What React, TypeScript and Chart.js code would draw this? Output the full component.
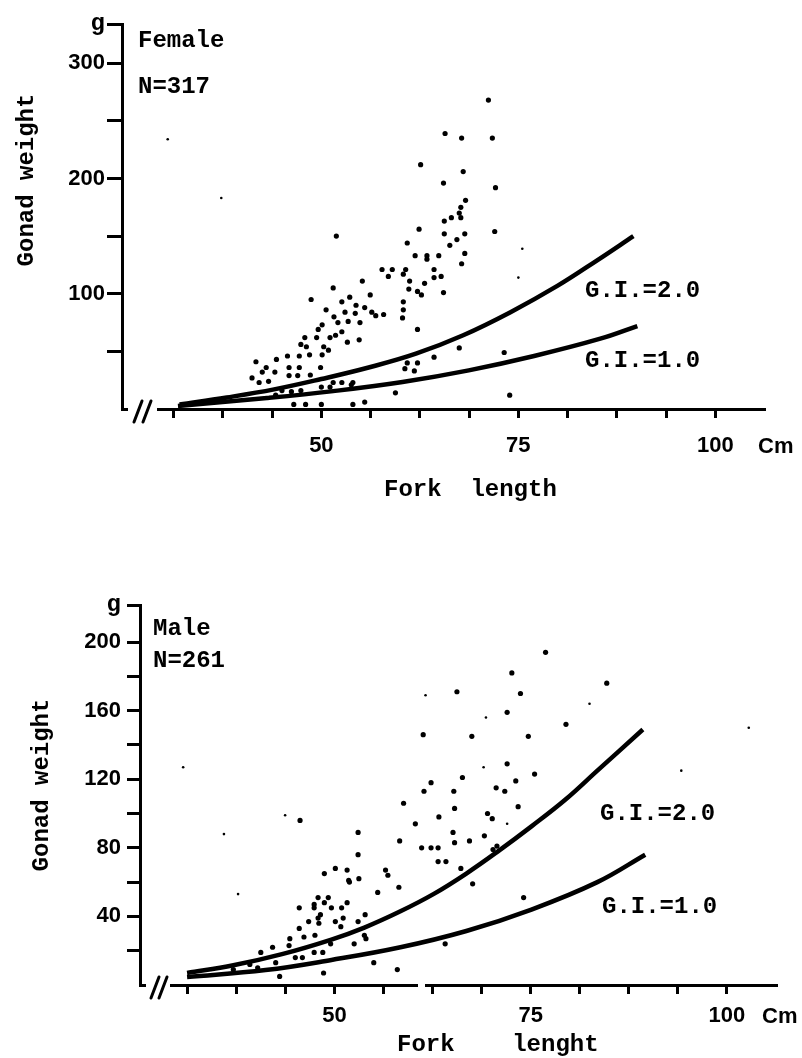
import React, { useEffect, useRef } from "react";
import { Chart, registerables } from "chart.js";

Chart.register(...registerables);

const MONO = '"Liberation Mono", "DejaVu Sans Mono", monospace';
const SANS = '"Liberation Sans", Arial, sans-serif';

// ---------- shared axis ticks ----------
const xTickValues = [31.25, 37.5, 43.75, 50, 56.25, 62.5, 68.75, 75, 81.25, 87.5, 93.75, 100];
const xTickLabels = [50, 75, 100];

const femaleYTicks = [50, 100, 150, 200, 250, 300];
const femaleYLabels = [100, 200, 300];
const maleYTicks = [20, 40, 60, 80, 100, 120, 140, 160, 180, 200];
const maleYLabels = [40, 80, 120, 160, 200];

// ---------- Female (N=317) ----------
const femalePoints = [
  [71.2, 268], [65.7, 239], [67.8, 235], [71.7, 235], [62.6, 212], [68.0, 206], [65.5, 196], [72.1, 192],
  [68.3, 181], [67.7, 175], [67.5, 170], [66.5, 166], [65.6, 163], [67.7, 166], [62.4, 156], [72.0, 154],
  [65.6, 152], [68.2, 152], [51.9, 150], [67.2, 147], [66.3, 142], [60.9, 144], [68.2, 135], [61.9, 133],
  [63.4, 133], [63.4, 130], [64.9, 133], [67.8, 126], [57.7, 121], [59.0, 121], [58.5, 115], [60.7, 121],
  [60.4, 117], [64.3, 121], [64.3, 114], [65.2, 115], [55.2, 111], [61.2, 111], [63.1, 109], [61.1, 104],
  [62.2, 102], [62.7, 99], [65.5, 101], [51.5, 105], [48.7, 95], [56.2, 99], [53.6, 97], [52.6, 93],
  [54.4, 90], [55.5, 88], [60.4, 93], [60.4, 86], [60.3, 79], [50.6, 86], [53.0, 84], [54.3, 83],
  [56.4, 84], [56.9, 81], [57.9, 82], [51.6, 80], [49.6, 69], [50.1, 73], [52.1, 75], [53.4, 76],
  [54.9, 75], [49.4, 62], [51.1, 62], [51.8, 64], [52.6, 67], [47.9, 62], [53.3, 58], [54.8, 60],
  [62.2, 69], [47.4, 56], [48.1, 54], [50.3, 54], [50.1, 47], [50.9, 51], [45.7, 46], [47.2, 46],
  [48.5, 47], [44.3, 43], [41.7, 41], [43.0, 36], [42.5, 32], [44.1, 32], [45.9, 36], [47.2, 36],
  [49.9, 36], [41.2, 27], [42.1, 23], [43.3, 24], [45.9, 29], [47.0, 29], [48.6, 29.5], [67.5, 53],
  [64.3, 45], [73.2, 49], [60.9, 40], [62.2, 40], [60.6, 35], [61.8, 33], [59.4, 14], [73.9, 12],
  [51.5, 23], [52.6, 23], [54.0, 23], [50.0, 19], [51.1, 19], [53.8, 21], [45.0, 16], [46.2, 15],
  [47.4, 16], [44.2, 12], [46.5, 4], [48.0, 4], [50.0, 4], [54.0, 4], [55.5, 6],
];
const femaleFaint = [[30.5, 234], [37.3, 183], [75.5, 139], [75.0, 114]];
const femaleGI2 = [
  [32, 4], [38, 10], [44, 17], [50, 26], [56, 36], [62, 48], [68, 64], [74, 84],
  [80, 107], [85, 129], [89.6, 150],
];
const femaleGI1 = [
  [31.8, 2.6], [43.1, 9.5], [51.5, 15.5], [60.3, 23.4], [68.7, 33.5], [77, 46], [85.4, 61], [90.1, 72],
];

// ---------- Male (N=261) ----------
const malePoints = [
  [76.9, 194], [72.6, 182], [65.6, 171], [73.7, 170], [72.0, 159], [61.3, 146], [67.5, 145], [74.7, 145],
  [72.0, 129], [75.5, 123], [66.3, 121], [62.3, 118], [73.1, 119], [61.4, 113], [65.2, 113], [70.6, 115],
  [71.7, 113], [58.8, 106], [65.3, 103], [73.4, 104], [63.3, 98], [69.5, 100], [70.1, 97], [45.6, 96],
  [60.3, 94], [53.0, 89], [65.1, 89], [58.3, 84], [67.2, 84], [69.1, 87], [65.3, 83], [61.1, 80],
  [62.3, 80], [63.2, 80], [70.7, 81], [70.2, 79], [53.0, 76], [63.2, 72], [64.2, 72], [66.1, 68],
  [48.7, 65], [50.1, 68], [51.6, 67], [56.5, 67], [56.8, 64], [51.8, 61], [51.9, 60], [53.1, 62],
  [55.5, 54], [58.2, 57], [67.6, 59], [47.9, 51], [49.2, 51], [47.4, 47], [48.7, 48], [49.6, 45],
  [50.9, 45], [51.6, 48], [45.5, 45], [47.4, 45], [48.2, 41], [46.7, 37], [47.9, 39], [48.0, 36],
  [50.1, 37], [51.1, 39], [50.8, 34], [53.0, 37], [53.9, 41], [45.5, 33], [46.1, 28], [47.5, 29],
  [44.3, 27], [44.2, 23], [40.6, 19], [42.1, 22], [47.4, 19], [48.5, 19], [49.5, 24], [53.8, 29],
  [54.0, 27], [52.5, 24], [45.0, 16], [45.9, 16], [42.5, 13], [39.2, 12], [40.2, 10], [37.1, 9],
  [55.0, 13], [64.1, 24], [58.0, 9], [48.6, 7], [43.0, 5], [74.1, 51], [84.7, 176], [79.5, 152],
];
const maleFaint = [
  [30.7, 127], [35.9, 88], [43.7, 99], [37.7, 53], [61.6, 169], [69.3, 156], [69.0, 127], [72.0, 94],
  [82.5, 164], [94.2, 125], [102.8, 150],
];
const maleGI2 = [
  [31.2, 7], [37.1, 11.5], [43.3, 18], [49.6, 26.5], [53.8, 33.5], [58.4, 43], [62.6, 53],
  [66.8, 65], [71, 78.5], [75.1, 92.5], [79.4, 108], [83.5, 125], [89.3, 149],
];
const maleGI1 = [
  [31.2, 4.7], [41.2, 8.7], [49.6, 14.6], [58.4, 22], [66.8, 31.5], [75.1, 44], [83.5, 60], [89.6, 76],
];

type Txt = { text: string; x: number; y: number; font: string; rotate?: boolean };

interface PanelSpec {
  points: number[][];
  faint: number[][];
  gi2: number[][];
  gi1: number[][];
  xMin: number;
  xMax: number;
  yMax: number;
  yTicks: number[];
  yLabels: number[];
  padTop: number;
  padRight: number;
  yWidth: number;
  xHeight: number;
  yTickLen: number;
  yTickPad: number;
  xTickPad: number;
  texts: Txt[];
  gaps: number[][];
  slashes: number[];
}

const TYPE = `bold 24px ${MONO}`;
const NUM = `bold 22px ${SANS}`;

const femaleSpec: PanelSpec = {
  points: femalePoints,
  faint: femaleFaint,
  gi2: femaleGI2,
  gi1: femaleGI1,
  xMin: 24.7,
  xMax: 106.3,
  yMax: 334,
  yTicks: femaleYTicks,
  yLabels: femaleYLabels,
  padTop: 24,
  padRight: 37,
  yWidth: 122,
  xHeight: 120,
  yTickLen: 15,
  yTickPad: 2,
  xTickPad: 15,
  texts: [
    { text: "Female", x: 138, y: 47, font: TYPE },
    { text: "N=317", x: 138, y: 93, font: TYPE },
    { text: "G.I.=2.0", x: 585, y: 297, font: TYPE },
    { text: "G.I.=1.0", x: 585, y: 367, font: TYPE },
    { text: "Gonad weight", x: 33, y: 180, font: TYPE, rotate: true },
    { text: "Fork  length", x: 384, y: 496, font: TYPE },
    { text: "Cm", x: 758, y: 453, font: NUM },
  ],
  gaps: [[128, 157]],
  slashes: [134, 143],
};

const maleSpec: PanelSpec = {
  points: malePoints,
  faint: maleFaint,
  gi2: maleGI2,
  gi1: maleGI1,
  xMin: 25.2,
  xMax: 106.4,
  yMax: 221.6,
  yTicks: maleYTicks,
  yLabels: maleYLabels,
  padTop: 76,
  padRight: 25,
  yWidth: 140,
  xHeight: 73,
  yTickLen: 13,
  yTickPad: 6,
  xTickPad: 9,
  texts: [
    { text: "Male", x: 153, y: 106, font: TYPE },
    { text: "N=261", x: 153, y: 138, font: TYPE },
    { text: "G.I.=2.0", x: 600, y: 291, font: TYPE },
    { text: "G.I.=1.0", x: 602, y: 384, font: TYPE },
    { text: "Gonad weight", x: 48, y: 256, font: TYPE, rotate: true },
    { text: "Fork    lenght", x: 397, y: 522, font: TYPE },
    { text: "Cm", x: 762, y: 494, font: NUM },
  ],
  gaps: [[146, 170], [418, 425]],
  slashes: [151, 159],
};

function toXY(a: number[][]) {
  return a.map(([x, y]) => ({ x, y }));
}

function annotPlugin(spec: PanelSpec) {
  return {
    id: "annot",
    afterDraw(chart: any) {
      const ctx: CanvasRenderingContext2D = chart.ctx;
      const area = chart.chartArea;
      const yb = area.bottom;
      ctx.save();
      ctx.fillStyle = "#fff";
      for (const [a, b] of spec.gaps) ctx.fillRect(a, yb - 3, b - a, 6);
      ctx.strokeStyle = "#000";
      ctx.lineWidth = 3;
      ctx.lineCap = "round";
      for (const bx of spec.slashes) {
        ctx.beginPath();
        ctx.moveTo(bx, yb + 13);
        ctx.lineTo(bx + 8, yb - 8);
        ctx.stroke();
      }
      ctx.fillStyle = "#000";
      ctx.textBaseline = "alphabetic";
      for (const t of spec.texts) {
        ctx.font = t.font;
        if (t.rotate) {
          ctx.save();
          ctx.translate(t.x, t.y);
          ctx.rotate(-Math.PI / 2);
          ctx.textAlign = "center";
          ctx.fillText(t.text, 0, 0);
          ctx.restore();
        } else {
          ctx.textAlign = "left";
          ctx.fillText(t.text, t.x, t.y);
        }
      }
      ctx.restore();
    },
  };
}

function buildConfig(spec: PanelSpec): any {
  const curve = (d: number[][]) => ({
    data: toXY(d),
    showLine: true,
    borderColor: "#000",
    borderWidth: 4.5,
    pointRadius: 0,
    tension: 0.4,
    fill: false,
  });
  return {
    type: "scatter",
    data: {
      datasets: [
        {
          data: toXY(spec.points),
          pointRadius: 2.6,
          pointBackgroundColor: "#000",
          pointBorderWidth: 0,
        },
        {
          data: toXY(spec.faint),
          pointRadius: 1.3,
          pointBackgroundColor: "#000",
          pointBorderWidth: 0,
        },
        curve(spec.gi2),
        curve(spec.gi1),
      ],
    },
    options: {
      animation: false,
      responsive: false,
      devicePixelRatio: 1,
      events: [],
      layout: { padding: { left: 0, right: spec.padRight, top: spec.padTop, bottom: 0 } },
      plugins: { legend: { display: false }, tooltip: { enabled: false } },
      scales: {
        x: {
          type: "linear",
          min: spec.xMin,
          max: spec.xMax,
          afterFit: (s: any) => {
            s.height = spec.xHeight;
          },
          afterBuildTicks: (s: any) => {
            s.ticks = xTickValues.map((v) => ({ value: v }));
          },
          ticks: {
            autoSkip: false,
            maxRotation: 0,
            padding: spec.xTickPad,
            color: "#000",
            font: { family: SANS, size: 22, weight: "bold" },
            callback: (v: number) => (xTickLabels.includes(v) ? String(v) : ""),
          },
          grid: { drawOnChartArea: false, drawTicks: true, tickLength: 9, tickWidth: 3, color: "#000" },
          border: { display: true, width: 3, color: "#000" },
        },
        y: {
          type: "linear",
          min: 0,
          max: spec.yMax,
          afterFit: (s: any) => {
            s.width = spec.yWidth;
          },
          afterBuildTicks: (s: any) => {
            s.ticks = [...spec.yTicks, spec.yMax].map((v) => ({ value: v }));
          },
          ticks: {
            autoSkip: false,
            padding: spec.yTickPad,
            color: "#000",
            font: (c: any) =>
              c.tick && c.tick.value === spec.yMax
                ? { family: MONO, size: 24, weight: "bold" }
                : { family: SANS, size: 22, weight: "bold" },
            callback: (v: number) =>
              v === spec.yMax ? "g" : spec.yLabels.includes(v) ? String(v) : "",
          },
          grid: { drawOnChartArea: false, drawTicks: true, tickLength: spec.yTickLen, tickWidth: 3, color: "#000" },
          border: { display: true, width: 3, color: "#000" },
        },
      },
    },
    plugins: [annotPlugin(spec)],
  };
}

function Panel({ spec, top }: { spec: PanelSpec; top: number }) {
  const ref = useRef<HTMLCanvasElement>(null);
  useEffect(() => {
    const chart = new Chart(ref.current as HTMLCanvasElement, buildConfig(spec));
    return () => chart.destroy();
  }, [spec]);
  return (
    <canvas
      ref={ref}
      width={802}
      height={529}
      style={{ position: "absolute", left: 0, top, width: 802, height: 529, display: "block" }}
    />
  );
}

export default function App() {
  return (
    <div style={{ position: "absolute", left: 0, top: 0, width: 802, height: 1058, background: "#fff" }}>
      <Panel spec={femaleSpec} top={0} />
      <Panel spec={maleSpec} top={529} />
    </div>
  );
}
